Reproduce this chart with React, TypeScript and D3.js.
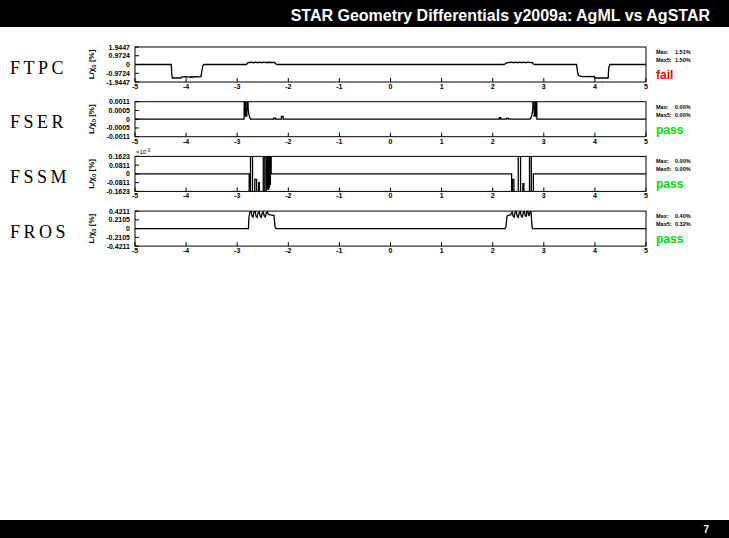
import React from 'react';
import * as d3 from 'd3';

const W = 729;
const H = 538;

const titleText = 'STAR Geometry Differentials y2009a: AgML vs AgSTAR';
const pageNumber = '7';
const xTicks = [-5, -4, -3, -2, -1, 0, 1, 2, 3, 4, 5];
const detectors = ['FTPC', 'FSER', 'FSSM', 'FROS'];
const yMaxes = [1.9447, 0.0011, 0.1623, 0.4211];
const yTickLabels = [
  ['1.9447', '0.9724', '0', '-0.9724', '-1.9447'],
  ['0.0011', '0.0005', '0', '-0.0005', '-0.0011'],
  ['0.1623', '0.0811', '0', '-0.0811', '-0.1623'],
  ['0.4211', '0.2105', '0', '-0.2105', '-0.4211'],
];
const maxVals = ['1.51%', '0.00%', '0.00%', '0.40%'];
const max5Vals = ['1.50%', '0.00%', '0.00%', '0.32%'];
const verdicts = ['fail', 'pass', 'pass', 'pass'];
const exponents = ['', '', '-3', ''];

const ftpcData: [number, number][] = [
  [-5, 0], [-4.29, 0], [-4.28, -1.1], [-4.27, -1.5], [-4.1, -1.5], [-4.08, -1.38], [-4.0, -1.36], [-3.95, -1.4],
  [-3.9, -1.36], [-3.85, -1.39], [-3.8, -1.35], [-3.75, -1.38], [-3.71, -1.35], [-3.69, -0.7], [-3.67, -0.1], [-3.65, 0],
  [-2.82, 0], [-2.79, 0.2], [-2.75, 0.22], [-2.72, 0.27], [-2.68, 0.2], [-2.64, 0.27], [-2.6, 0.2], [-2.56, 0.27],
  [-2.52, 0.2], [-2.48, 0.27], [-2.44, 0.2], [-2.4, 0.25], [-2.33, 0.22], [-2.27, 0.22], [-2.24, 0.05], [-2.22, 0],
  [2.22, 0], [2.25, 0.1], [2.28, 0.2], [2.33, 0.22], [2.37, 0.27], [2.41, 0.2], [2.45, 0.27], [2.49, 0.2],
  [2.53, 0.27], [2.57, 0.2], [2.61, 0.27], [2.65, 0.2], [2.69, 0.26], [2.74, 0.22], [2.78, 0.2], [2.8, 0.03], [2.82, 0],
  [3.64, 0], [3.66, -0.8], [3.68, -1.2], [3.72, -1.33], [3.8, -1.35], [3.88, -1.31], [3.95, -1.34], [3.99, -1.33],
  [4.0, -1.5], [4.26, -1.5], [4.27, -0.4], [4.29, 0], [5, 0],
];

const fserData: [number, number][] = [
  [-5, 0], [-2.865, 0], [-2.862, 0.0013], [-2.84, 0.0013], [-2.837, 0.0002], [-2.812, 0.0002], [-2.809, 0.0013],
  [-2.79, 0.0013], [-2.785, 0.0006], [-2.77, 0.0003], [-2.755, 0.0001], [-2.74, 0],
  [-2.285, 0], [-2.285, 0.00006], [-2.25, 0.00006], [-2.25, 0],
  [-2.135, 0], [-2.135, 0.00018], [-2.1, 0.00018], [-2.1, 0],
  [2.13, 0], [2.13, 0.0001], [2.16, 0.0001], [2.16, 0],
  [2.27, 0], [2.27, 0.00005], [2.31, 0.00005], [2.31, 0],
  [2.73, 0], [2.75, 0.0001], [2.77, 0.0003], [2.785, 0.0006], [2.79, 0.0013], [2.81, 0.0013], [2.813, 0.0002],
  [2.838, 0.0002], [2.841, 0.0013], [2.862, 0.0013], [2.865, 0], [5, 0],
];

const fssmData: [number, number][] = [
  [-5, 0], [-2.765, 0], [-2.765, -0.17], [-2.74, -0.17], [-2.74, 0.17], [-2.70, 0.17], [-2.70, -0.17],
  [-2.655, -0.17], [-2.655, -0.05], [-2.62, -0.05], [-2.62, -0.17], [-2.58, -0.17], [-2.58, -0.08], [-2.565, -0.08],
  [-2.565, -0.17], [-2.49, -0.17], [-2.49, 0.17], [-2.46, 0.17], [-2.46, -0.17], [-2.43, -0.17], [-2.43, 0.17],
  [-2.405, 0.17], [-2.405, -0.14], [-2.4, -0.14], [-2.4, 0.15], [-2.395, 0.15], [-2.395, -0.14], [-2.39, -0.14],
  [-2.39, 0.15], [-2.385, 0.15], [-2.385, -0.14], [-2.38, -0.14], [-2.38, 0.15], [-2.375, 0.15], [-2.375, -0.12],
  [-2.37, -0.12], [-2.37, 0.17], [-2.355, 0.17], [-2.355, -0.1], [-2.35, -0.1], [-2.35, 0.17], [-2.335, 0.17],
  [-2.335, 0],
  [2.37, 0], [2.37, -0.17], [2.385, -0.17], [2.385, -0.05], [2.415, -0.05], [2.415, -0.17], [2.5, -0.17],
  [2.5, 0.17], [2.545, 0.17], [2.545, -0.17], [2.59, -0.17], [2.59, -0.09], [2.61, -0.09], [2.61, -0.17],
  [2.72, -0.17], [2.72, 0.17], [2.755, 0.17], [2.755, -0.17], [2.795, -0.17], [2.795, 0], [5, 0],
];

const frosData: [number, number][] = [
  [-5, 0], [-2.78, 0], [-2.77, 0.28], [-2.75, 0.4], [-2.73, 0.43], [-2.71, 0.3], [-2.69, 0.28], [-2.67, 0.4],
  [-2.65, 0.42], [-2.63, 0.3], [-2.61, 0.27], [-2.59, 0.38], [-2.57, 0.41], [-2.55, 0.3], [-2.53, 0.27],
  [-2.51, 0.37], [-2.49, 0.4], [-2.47, 0.3], [-2.45, 0.28], [-2.43, 0.38], [-2.41, 0.4], [-2.39, 0.34],
  [-2.35, 0.33], [-2.3, 0.32], [-2.28, 0.32], [-2.26, 0.05], [-2.24, 0],
  [2.24, 0], [2.26, 0.05], [2.28, 0.3], [2.31, 0.32], [2.35, 0.33], [2.38, 0.4], [2.4, 0.3], [2.42, 0.28],
  [2.44, 0.39], [2.46, 0.41], [2.48, 0.3], [2.5, 0.27], [2.52, 0.38], [2.54, 0.41], [2.56, 0.3], [2.58, 0.28],
  [2.6, 0.39], [2.62, 0.41], [2.64, 0.3], [2.66, 0.3], [2.67, 0.43], [2.69, 0.42], [2.71, 0.3], [2.73, 0.4],
  [2.75, 0.41], [2.77, 0.05], [2.78, 0], [5, 0],
];

const seriesData = [ftpcData, fserData, fssmData, frosData];

const PLOT_LEFT = 135;
const PLOT_RIGHT = 646;
const PANEL_TOP0 = 47;
const PANEL_STEP = 54.7;
const PANEL_H = 35;
const SANS = '"Liberation Sans", Arial, sans-serif';

function Panel({ i }: { i: number }) {
  const top = PANEL_TOP0 + i * PANEL_STEP;
  const bottom = top + PANEL_H;
  const x = d3.scaleLinear().domain([-5, 5]).range([PLOT_LEFT, PLOT_RIGHT]);
  const ymax = yMaxes[i];
  const y = d3.scaleLinear().domain([-ymax, ymax]).range([bottom, top]);
  const line = d3.line<[number, number]>().x(d => x(d[0])).y(d => y(d[1]));
  const tickVals = [ymax, ymax / 2, 0, -ymax / 2, -ymax];
  const clipId = `clip${i}`;
  const midY = (top + bottom) / 2;
  return (
    <g>
      <defs>
        <clipPath id={clipId}>
          <rect x={PLOT_LEFT} y={top} width={PLOT_RIGHT - PLOT_LEFT} height={PANEL_H} />
        </clipPath>
      </defs>
      <text x={10} y={midY + 9} fontFamily='"Liberation Serif", "Times New Roman", serif' fontSize={18}
        letterSpacing={3.5} fill="#000">{detectors[i]}</text>
      <text transform={`translate(94,${midY}) rotate(-90)`} textAnchor="middle" fontFamily={SANS}
        fontSize={8} fontWeight="bold" fill="#000">
        L/χ<tspan fontSize={6} dy={2}>0</tspan><tspan dy={-2}> [%]</tspan>
      </text>
      <path d={line(seriesData[i]) || ''} fill="none" stroke="#000" strokeWidth={1.3} clipPath={`url(#${clipId})`} />
      <rect x={PLOT_LEFT} y={top} width={PLOT_RIGHT - PLOT_LEFT} height={PANEL_H} fill="none" stroke="#000" strokeWidth={1} />
      {tickVals.map((v, k) => (
        <g key={k}>
          <line x1={PLOT_LEFT} x2={PLOT_LEFT + 4} y1={y(v)} y2={y(v)} stroke="#000" strokeWidth={1} />
          <text x={PLOT_LEFT - 5} y={y(v) + 2.5} textAnchor="end" fontFamily={SANS} fontSize={7}
            fontWeight="bold" fill="#000">{yTickLabels[i][k]}</text>
        </g>
      ))}
      {xTicks.map(t => (
        <g key={t}>
          <line x1={x(t)} x2={x(t)} y1={bottom} y2={bottom - 4} stroke="#000" strokeWidth={1} />
          <text x={x(t)} y={bottom + 7} textAnchor="middle" fontFamily={SANS} fontSize={7}
            fontWeight="bold" fill="#000">{t}</text>
        </g>
      ))}
      {exponents[i] && (
        <text x={PLOT_LEFT + 1} y={top - 2} fontFamily={SANS} fontSize={6} fill="#000">
          ×10<tspan fontSize={4.5} dy={-2.5}>{exponents[i]}</tspan>
        </text>
      )}
      <text x={656} y={top + 7} fontFamily={SANS} fontSize={5.5} fontWeight="bold" fill="#000">Max:</text>
      <text x={675} y={top + 7} fontFamily={SANS} fontSize={5.5} fontWeight="bold" fill="#000">{maxVals[i]}</text>
      <text x={656} y={top + 15} fontFamily={SANS} fontSize={5.5} fontWeight="bold" fill="#000">Max5:</text>
      <text x={675} y={top + 15} fontFamily={SANS} fontSize={5.5} fontWeight="bold" fill="#000">{max5Vals[i]}</text>
      <text x={656} y={top + 32} fontFamily={SANS} fontSize={12} fontWeight="bold"
        fill={verdicts[i] === 'fail' ? '#ff0000' : '#00e000'}>{verdicts[i]}</text>
    </g>
  );
}

export default function App() {
  return (
    <svg width={W} height={H} style={{ position: 'absolute', left: 0, top: 0, background: '#fff' }}>
      <rect x={0} y={0} width={W} height={H} fill="#fff" />
      <rect x={0} y={0} width={W} height={27} fill="#000" />
      <text x={710} y={21} textAnchor="end" fontFamily={SANS} fontSize={16} fontWeight="bold" fill="#fff">{titleText}</text>
      {detectors.map((_, i) => <Panel key={i} i={i} />)}
      <rect x={0} y={520} width={W} height={18} fill="#000" />
      <text x={709} y={533} textAnchor="end" fontFamily={SANS} fontSize={10} fontWeight="bold" fill="#fff">{pageNumber}</text>
    </svg>
  );
}
